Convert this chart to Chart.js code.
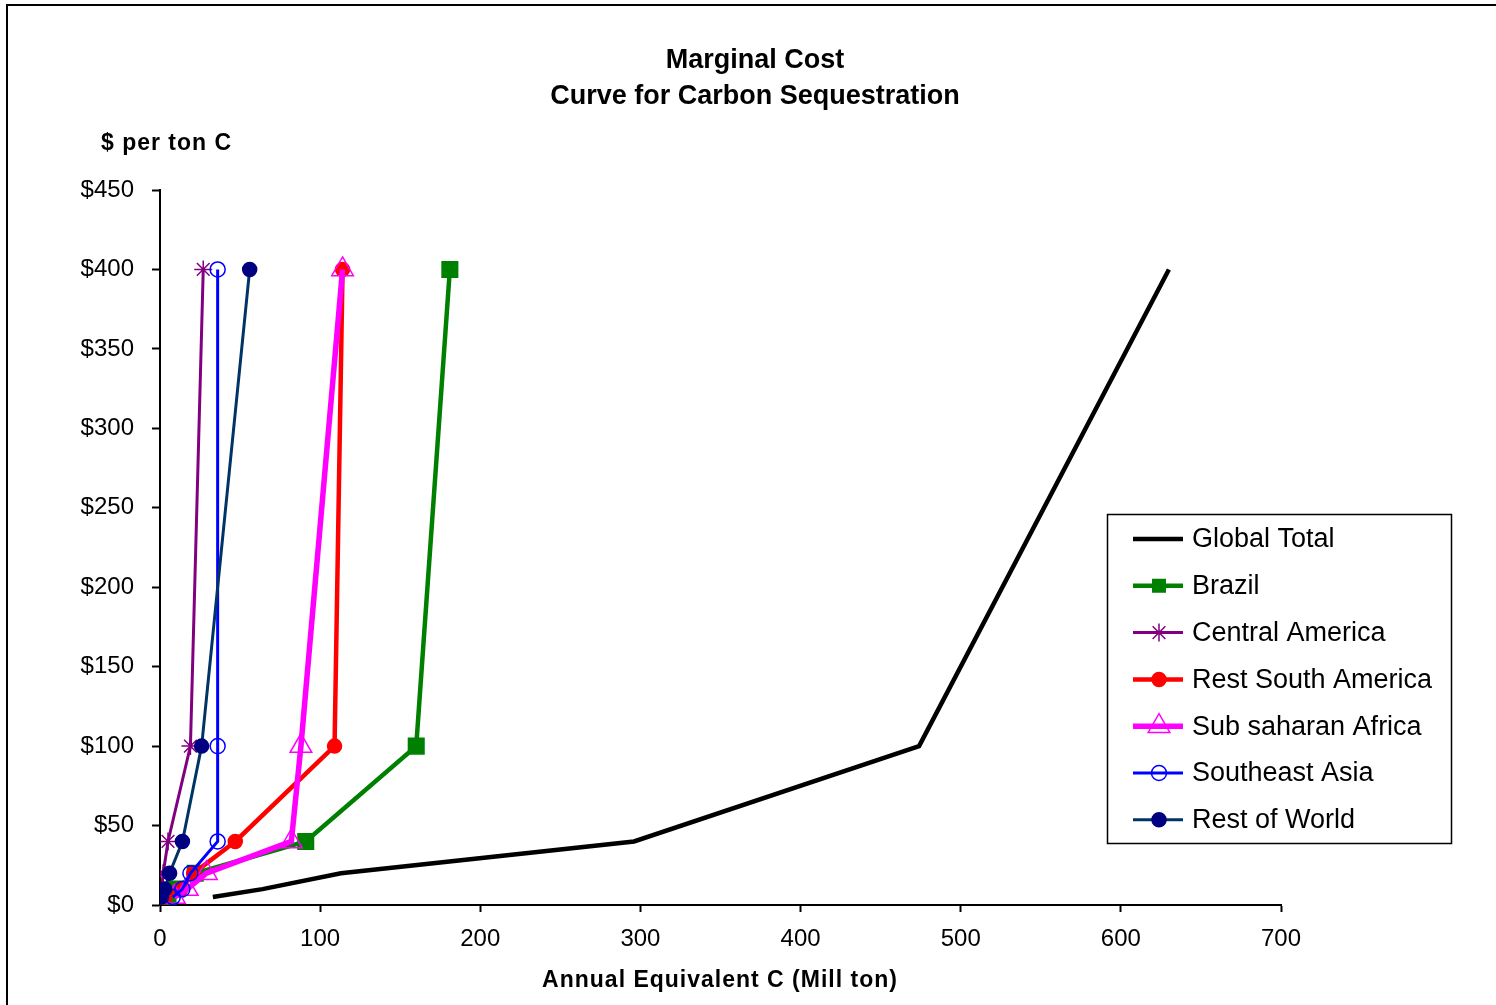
<!DOCTYPE html>
<html>
<head>
<meta charset="utf-8">
<script src="https://cdn.jsdelivr.net/npm/chart.js@4/dist/chart.umd.min.js"></script>
<style>
  html, body { margin: 0; padding: 0; background: #fff; }
  #wrap { width: 1496px; height: 1005px; position: relative; }
</style>
</head>
<body>
<div id="wrap"><canvas id="chart" width="1496" height="1005"></canvas></div>
<script>
'use strict';

// price levels ($ per ton C) shared by every curve
const prices = [5, 10, 20, 40, 100, 400];

// annual equivalent C (Mill ton) at each price level
const globalTotal      = [33, 64, 113, 296, 474, 630];
const brazil           = [5, 10, 22, 91, 160, 181];
const centralAmerica   = [0.5, 1, 2, 5, 19, 27];
const restSouthAmerica = [3, 13, 21, 47, 109, 114];
const subSaharanAfrica = [9, 17, 29, 82, 88, 114];
const southeastAsia    = [8, 14, 19, 36, 36, 36];
const restOfWorld      = [1, 3, 6, 14, 26, 56];

const xTicks = [0, 100, 200, 300, 400, 500, 600, 700];
const yTicks = [0, 50, 100, 150, 200, 250, 300, 350, 400, 450];

const FONT = 'Arial, "Liberation Sans", sans-serif';

function pts(xs) {
  return xs.map((x, i) => ({ x: x, y: prices[i] }));
}

const series = [
  { label: 'Global Total', data: globalTotal, color: '#000000', width: 4.5, style: false, radius: 0, fill: '#000000' },
  { label: 'Brazil', data: brazil, color: '#008000', width: 4.5, style: 'rect', radius: 11, fill: '#008000' },
  { label: 'Central America', data: centralAmerica, color: '#800080', width: 3, style: 'star', radius: 9, fill: '#800080' },
  { label: 'Rest South America', data: restSouthAmerica, color: '#ff0000', width: 4.5, style: 'circle', radius: 7, fill: '#ff0000' },
  { label: 'Sub saharan Africa', data: subSaharanAfrica, color: '#ff00ff', width: 5.5, style: 'triangle', radius: 12.5, fill: 'rgba(0,0,0,0)', pointWidth: 1.5 },
  { label: 'Southeast Asia', data: southeastAsia, color: '#0000ff', width: 3, style: 'circle', radius: 7.5, fill: 'rgba(0,0,0,0)', pointWidth: 1.5 },
  { label: 'Rest of World', data: restOfWorld, color: '#003366', width: 3, style: 'circle', radius: 7, fill: '#000080', pointColor: '#000080' }
];

// draws the outer frame, the titles and the boxed legend
const decorations = {
  id: 'decorations',
  afterDraw(chart) {
    const ctx = chart.ctx;
    ctx.save();
    ctx.strokeStyle = '#000';
    ctx.lineWidth = 2;
    ctx.strokeRect(7, 5, 1600, 1100);

    ctx.fillStyle = '#000';
    ctx.textAlign = 'center';
    ctx.textBaseline = 'middle';
    ctx.font = 'bold 27px ' + FONT;
    ctx.fillText('Marginal Cost', 755, 61);
    ctx.fillText('Curve for Carbon Sequestration', 755, 97);

    ctx.font = 'bold 23px ' + FONT;
    ctx.letterSpacing = '1px';
    ctx.textAlign = 'left';
    ctx.fillText('$ per ton C', 101, 144);
    ctx.textAlign = 'center';
    ctx.fillText('Annual Equivalent C (Mill ton)', 720, 981);
    ctx.letterSpacing = '0px';

    // legend box
    ctx.lineWidth = 1.5;
    ctx.strokeRect(1107.5, 514.5, 344, 329);
    ctx.font = '27px ' + FONT;
    ctx.textAlign = 'left';
    series.forEach((s, i) => {
      const y = 539 + i * 46.8;
      ctx.strokeStyle = s.color;
      ctx.lineWidth = s.width;
      ctx.beginPath();
      ctx.moveTo(1133, y);
      ctx.lineTo(1183, y);
      ctx.stroke();
      if (s.style) {
        ctx.lineWidth = s.pointWidth || 1.5;
        ctx.strokeStyle = s.pointColor || s.color;
        ctx.fillStyle = s.fill;
        const r = s.style === 'rect' ? s.radius * 0.8 : s.radius;
        Chart.helpers.drawPoint(ctx, { pointStyle: s.style, radius: r, rotation: 0, borderWidth: ctx.lineWidth }, 1159, y);
      }
      ctx.fillStyle = '#000';
      ctx.fillText(s.label, 1192, y + 1);
    });
    ctx.restore();
  }
};

const datasets = series.map((s, i) => ({
  label: s.label,
  data: pts(s.data),
  showLine: true,
  borderColor: s.color,
  borderWidth: s.width,
  pointStyle: s.style,
  pointRadius: s.radius,
  pointHoverRadius: s.radius,
  pointBackgroundColor: s.fill,
  pointBorderColor: s.pointColor || s.color,
  pointBorderWidth: s.pointWidth || 1.5,
  order: series.length - i,
  tension: 0
}));

new Chart(document.getElementById('chart'), {
  type: 'scatter',
  data: { datasets: datasets },
  options: {
    responsive: false,
    animation: false,
    devicePixelRatio: 1,
    layout: { padding: { top: 190, left: 0, right: 215, bottom: 0 } },
    plugins: {
      legend: { display: false },
      title: { display: false },
      tooltip: { enabled: false }
    },
    scales: {
      x: {
        type: 'linear',
        min: 0,
        max: 700,
        afterBuildTicks: axis => { axis.ticks = xTicks.map(v => ({ value: v })); },
        afterFit: axis => { axis.height = 100; },
        grid: { drawOnChartArea: false, drawTicks: true, tickLength: 7, color: '#000', tickWidth: 2 },
        border: { display: true, color: '#000', width: 2 },
        ticks: { color: '#000', font: { family: FONT, size: 24 }, padding: 13, maxRotation: 0 }
      },
      y: {
        type: 'linear',
        min: 0,
        max: 450,
        afterBuildTicks: axis => { axis.ticks = yTicks.map(v => ({ value: v })); },
        afterFit: axis => { axis.width = 160; },
        grid: { drawOnChartArea: false, drawTicks: true, tickLength: 8, color: '#000', tickWidth: 2 },
        border: { display: true, color: '#000', width: 2 },
        ticks: { color: '#000', font: { family: FONT, size: 24 }, padding: 18, callback: v => '$' + v }
      }
    }
  },
  plugins: [decorations]
});
</script>
</body>
</html>
